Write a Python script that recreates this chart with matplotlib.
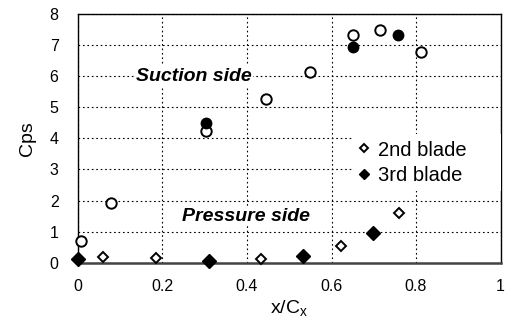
"""
Surface pressure coefficient on 2nd and 3rd blades.
"""

import matplotlib

matplotlib.use("Agg")
import matplotlib.pyplot as plt

plt.rcParams["font.family"] = ["Liberation Sans", "DejaVu Sans"]

# Suction side (circles)
suction_x_2nd = [0.006, 0.077, 0.303, 0.445, 0.549, 0.650, 0.715, 0.812]
suction_cp_2nd = [0.70, 1.91, 4.24, 5.27, 6.14, 7.34, 7.50, 6.77]
suction_x_3rd = [0.303, 0.650, 0.758]
suction_cp_3rd = [4.48, 6.95, 7.34]

# Pressure side (diamonds)
pressure_x_2nd = [0.060, 0.185, 0.432, 0.622, 0.760]
pressure_cp_2nd = [0.19, 0.14, 0.12, 0.55, 1.61]
pressure_x_3rd = [0.0, 0.311, 0.533, 0.697]
pressure_cp_3rd = [0.11, 0.06, 0.23, 0.96]

x_ticks = [0, 0.2, 0.4, 0.6, 0.8, 1.0]
x_tick_labels = ["0", "0.2", "0.4", "0.6", "0.8", "1"]
y_ticks = [0, 1, 2, 3, 4, 5, 6, 7, 8]

fig = plt.figure(figsize=(5.11, 3.32), dpi=100)
ax = fig.add_axes([0.1526, 0.2087, 0.827, 0.749])

ax.set_xlim(0, 1)
ax.set_ylim(0, 8)
ax.set_xticks(x_ticks)
ax.set_xticklabels(x_tick_labels)
ax.set_yticks(y_ticks)
ax.tick_params(length=0, labelsize=11.5)
ax.tick_params(axis="x", pad=12)
ax.tick_params(axis="y", pad=14)
ax.grid(color="black", ls=(0, (1.5, 2.5)), lw=0.8)

for side in ["top", "right", "left"]:
    ax.spines[side].set_linewidth(1.0)
ax.spines["bottom"].set_linewidth(1.8)
ax.spines["bottom"].set_color("#444444")

ax.plot(suction_x_2nd, suction_cp_2nd, "o", ms=7.5, mfc="white", mec="black",
        mew=1.4, clip_on=False, zorder=4)
ax.plot(suction_x_3rd, suction_cp_3rd, "o", ms=7.5, mfc="black", mec="black",
        clip_on=False, zorder=4)
ax.plot(pressure_x_2nd, pressure_cp_2nd, "D", ms=5.5, mfc="white",
        mec="black", mew=1.4, clip_on=False, zorder=4, label="2nd blade")
ax.plot(pressure_x_3rd, pressure_cp_3rd, "D", ms=7, mfc="black",
        mec="black", clip_on=False, zorder=4, label="3rd blade")

text_box = dict(facecolor="white", edgecolor="none", pad=1)
ax.text(0.137, 6.0, "Suction side", fontsize=14, fontweight="bold",
        style="italic", va="center", bbox=text_box, zorder=3)
ax.text(0.245, 1.5, "Pressure side", fontsize=14, fontweight="bold",
        style="italic", va="center", bbox=text_box, zorder=3)

leg = ax.legend(loc="lower left", bbox_to_anchor=(0.65, 0.29, 0.35, 0.25),
                mode="expand", fontsize=14.5, frameon=True, fancybox=False,
                handlelength=0.5, handletextpad=0.45, markerscale=0.7,
                borderaxespad=0, labelspacing=0.3, borderpad=0.3)
leg.get_frame().set_edgecolor("none")
leg.get_frame().set_alpha(1)

ax.set_xlabel(r"x/C$_\mathregular{x}$", fontsize=14, labelpad=3)
ax.set_ylabel("Cps", fontsize=14, labelpad=10)

fig.savefig("out.png", dpi=100)
